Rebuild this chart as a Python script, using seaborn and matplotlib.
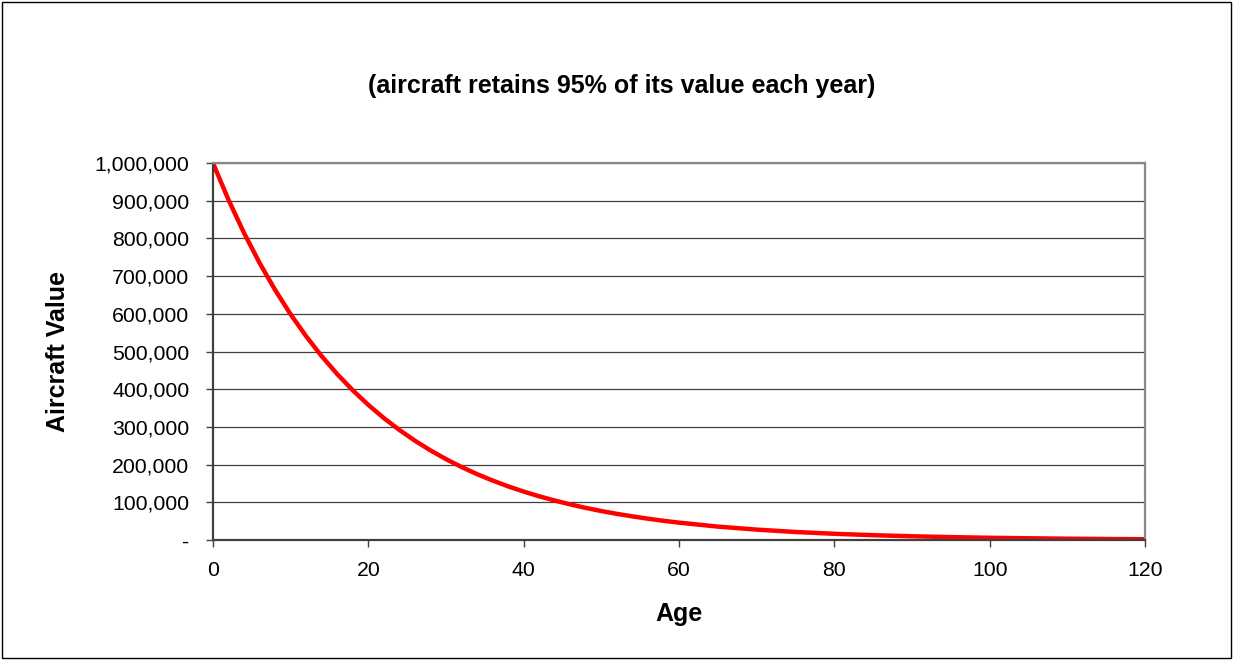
import numpy as np
import pandas as pd
import seaborn as sns
import matplotlib.pyplot as plt
from matplotlib.patches import Rectangle
from matplotlib.ticker import FuncFormatter

# values (age in years, value in dollars)
age = [0, 2, 4, 6, 8, 10, 12, 14, 16, 18, 20, 22, 24, 26, 28, 30,
       32, 34, 36, 38, 40, 42, 44, 46, 48, 50, 52, 54, 56, 58, 60,
       65, 70, 75, 80, 85, 90, 95, 100, 105, 110, 115, 120]
aircraft_value = [1000000, 902500, 814500, 735100, 663400, 598700, 540400,
                  487700, 440100, 397200, 358500, 323500, 292000, 263500,
                  237800, 214600, 193700, 174800, 157800, 142400, 128500,
                  116000, 104700, 94500, 85200, 76900, 69400, 62700, 56600,
                  51000, 46100, 35600, 27600, 21300, 16500, 12800, 9900,
                  7700, 5900, 4600, 3500, 2700, 2100]
x_ticks = [0, 20, 40, 60, 80, 100, 120]
y_ticks = [0, 100000, 200000, 300000, 400000, 500000, 600000, 700000,
           800000, 900000, 1000000]

df = pd.DataFrame({'Age': age, 'Value': aircraft_value})

sns.set_theme(style='white')
plt.rcParams['font.family'] = ['Liberation Sans', 'DejaVu Sans']
plt.rcParams['text.color'] = 'black'
plt.rcParams['axes.labelcolor'] = 'black'

fig = plt.figure(figsize=(12.33, 6.6), dpi=100)
ax = fig.add_axes([0.1727, 0.1818, 0.7559, 0.5712])

sns.lineplot(data=df, x='Age', y='Value', color='#ff0000', linewidth=3.2,
             ax=ax)

ax.set_xlim(0, 120)
ax.set_ylim(0, 1000000)
ax.set_xticks(x_ticks)
ax.set_yticks(y_ticks)
ax.yaxis.set_major_formatter(
    FuncFormatter(lambda v, p: '-' if v == 0 else '{:,.0f}'.format(v)))
ax.grid(axis='y', color='#404040', linewidth=0.9)
ax.set_axisbelow(True)

for side in ['top', 'right']:
  ax.spines[side].set_color('#888888')
  ax.spines[side].set_linewidth(1.6)
for side in ['left', 'bottom']:
  ax.spines[side].set_color('#404040')
  ax.spines[side].set_linewidth(1.6)

ax.tick_params(axis='both', direction='out', length=5, width=1,
               color='#404040', labelsize=15.3, labelcolor='black',
               bottom=True, left=True)
ax.tick_params(axis='y', pad=12)
ax.tick_params(axis='x', pad=10)

ax.set_xlabel('Age', fontsize=18, fontweight='bold')
ax.set_ylabel('Aircraft Value', fontsize=18, fontweight='bold')
ax.xaxis.set_label_coords(0.5, -0.165)
ax.yaxis.set_label_coords(-0.153, 0.5)

fig.text(0.5045, 0.870, '(aircraft retains 95% of its value each year)',
         ha='center', va='center', fontsize=18, fontweight='bold')

fig.patches.append(Rectangle((0.002, 0.003), 0.996, 0.994,
                             transform=fig.transFigure, fill=False,
                             edgecolor='black', linewidth=1))

fig.savefig('out.png', dpi=100)
